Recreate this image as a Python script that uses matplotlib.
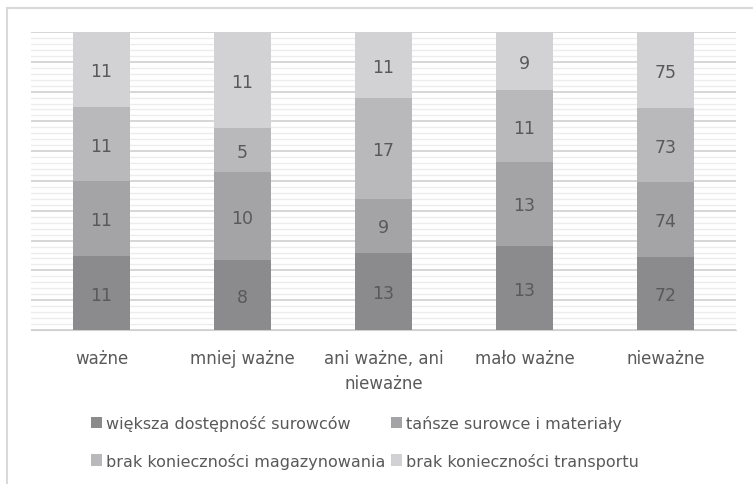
import matplotlib
matplotlib.use("Agg")
import matplotlib.pyplot as plt
from matplotlib.patches import Rectangle
import numpy as np

categories = ["ważne", "mniej ważne", "ani ważne, ani\nnieważne", "mało ważne", "nieważne"]
series_names = ["większa dostępność surowców", "tańsze surowce i materiały",
                "brak konieczności magazynowania", "brak konieczności transportu"]
s1 = [11, 8, 13, 13, 72]
s2 = [11, 10, 9, 13, 74]
s3 = [11, 5, 17, 11, 73]
s4 = [11, 11, 11, 9, 75]
colors = ["#8b8b8d", "#a4a4a6", "#b9b9bb", "#d2d2d4"]
text_color = "#595959"

plt.rcParams['font.family'] = ['Liberation Sans Narrow', 'DejaVu Sans']

fig = plt.figure(figsize=(7.53, 4.85), dpi=100)
fig.patches.append(Rectangle((7/753, -0.1), 2, 1.1 - 9/485, transform=fig.transFigure,
                             fill=False, edgecolor="#d9d9d9", linewidth=1.5))
ax = fig.add_axes([31/753, 1 - 331/485, (736-31)/753, (331-33)/485])

data = np.array([s1, s2, s3, s4], dtype=float)
totals = data.sum(axis=0)
pct = data / totals * 100
x = np.arange(len(categories))
bottom = np.zeros(len(categories))
handles = []
for i in range(4):
    b = ax.bar(x, pct[i], bottom=bottom, width=0.41, color=colors[i], label=series_names[i], zorder=3)
    handles.append(b)
    for j in range(len(categories)):
        ax.text(x[j], bottom[j] + pct[i][j] / 2 - 0.6, str(int(data[i][j])), ha="center", va="center",
                fontsize=12.5, color=text_color, zorder=4)
    bottom += pct[i]

ax.set_ylim(0, 100)
ax.set_xlim(-0.5, len(categories) - 0.5)
ax.set_yticks(np.arange(0, 101, 10))
ax.set_yticks(np.arange(0, 101, 2), minor=True)
ax.yaxis.grid(True, which="major", color="#d0d0d0", linewidth=1.2, zorder=0)
ax.yaxis.grid(True, which="minor", color="#ececec", linewidth=1.0, zorder=0)
ax.tick_params(axis="y", which="both", left=False, labelleft=False)
ax.tick_params(axis="x", length=0, pad=14, labelsize=12, labelcolor=text_color)
ax.set_xticks(x)
ax.set_xticklabels(categories, linespacing=1.45)
for s in ["top", "right", "left"]:
    ax.spines[s].set_visible(False)
ax.spines["bottom"].set_color("#d0d0d0")

order = [0, 2, 1, 3]
fig.legend([handles[k] for k in order], [series_names[k] for k in order],
           loc="upper left", bbox_to_anchor=(91/753, 1 - 416/485), ncol=2,
           frameon=False, fontsize=11.5, labelcolor=text_color, handlelength=0.7, handleheight=0.7,
           handletextpad=0.25, columnspacing=0.35, labelspacing=1.35, borderpad=0, borderaxespad=0)

fig.savefig("out.png", dpi=100)
